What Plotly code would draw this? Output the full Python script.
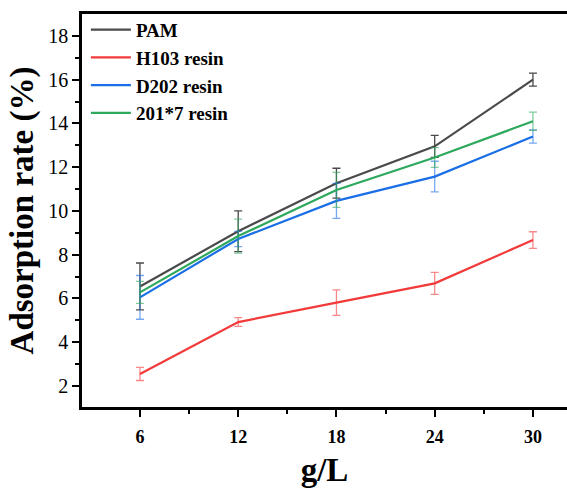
import plotly.graph_objects as go

x_vals = [6, 12, 18, 24, 30]
series_names = ["PAM", "H103 resin", "D202 resin", "201*7 resin"]
pam = [6.55, 9.07, 11.27, 12.95, 16.0]
pam_err = [1.07, 0.93, 0.68, 0.5, 0.3]
h103 = [2.55, 4.92, 5.81, 6.69, 8.67]
h103_err = [0.3, 0.2, 0.58, 0.5, 0.38]
d202 = [6.05, 8.72, 10.46, 11.57, 13.4]
d202_err = [1.0, 0.35, 0.8, 0.7, 0.3]
r2017 = [6.28, 8.85, 10.96, 12.44, 14.1]
r2017_err = [0.5, 0.78, 0.8, 0.45, 0.42]

line_colors = ["#4a4a4a", "#f23a3a", "#1a6ee6", "#2ea85c"]
err_colors = ["#4a4a4a", "rgba(242,58,58,0.6)", "rgba(26,110,230,0.6)", "rgba(46,168,92,0.6)"]

fig = go.Figure()
for name, ys, es, lc, ec in zip(series_names, [pam, h103, d202, r2017],
                                [pam_err, h103_err, d202_err, r2017_err],
                                line_colors, err_colors):
    fig.add_trace(go.Scatter(
        x=x_vals, y=ys, name=name, mode="lines",
        line=dict(color=lc, width=2.2),
        error_y=dict(type="data", array=es, visible=True, color=ec, thickness=1.3, width=4),
    ))

fig.update_layout(
    width=567, height=490,
    margin=dict(l=82, r=0, t=14, b=83),
    plot_bgcolor="white", paper_bgcolor="white",
    font=dict(family="Liberation Serif", color="black"),
    showlegend=True,
    legend=dict(x=0.008, y=1.008, xanchor="left", yanchor="top",
                font=dict(family="Liberation Serif", size=19, color="black", weight="bold"),
                bgcolor="rgba(0,0,0,0)", itemwidth=40, tracegroupgap=0),
    xaxis=dict(
        range=[2.46, 32.08], tickvals=x_vals, ticktext=[str(v) for v in x_vals],
        ticks="outside", ticklen=7, tickwidth=2, tickcolor="black",
        showline=True, linewidth=2.5, linecolor="black", mirror=True,
        showgrid=False, zeroline=False, automargin=False,
        ticklabelstandoff=5,
        tickfont=dict(family="Liberation Serif", size=18, color="black", weight="bold"),
        minor=dict(tickvals=[9, 15, 21, 27], ticks="outside", ticklen=4, tickwidth=2, tickcolor="black"),
        title=dict(text="g/L", font=dict(family="Liberation Serif", size=33, color="black", weight="bold"), standoff=12),
    ),
    yaxis=dict(
        range=[1.04, 19.0], tickvals=[2, 4, 6, 8, 10, 12, 14, 16, 18],
        ticks="outside", ticklen=7, tickwidth=2, tickcolor="black",
        showline=True, linewidth=2.5, linecolor="black", mirror=False,
        showgrid=False, zeroline=False, automargin=False,
        tickfont=dict(family="Liberation Serif", size=20, color="black"),
        minor=dict(tickvals=[3, 5, 7, 9, 11, 13, 15, 17], ticks="outside", ticklen=4, tickwidth=2, tickcolor="black"),
        title=dict(text="Adsorption rate (%)", font=dict(family="Liberation Serif", size=33, color="black", weight="bold"), standoff=5),
    ),
)

fig.write_html("out.html", config={"displayModeBar": False},
               post_script="document.body.style.margin='0';document.body.style.overflow='hidden';")
